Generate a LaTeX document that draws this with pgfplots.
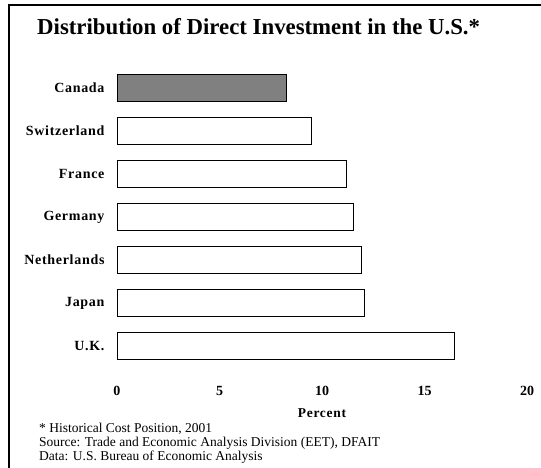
\documentclass[border=0pt]{standalone}
\usepackage{pgfplots}
\pgfplotsset{compat=1.18}
\usepackage{fontspec}
\setmainfont{Liberation Serif}
\newfontfamily\spaced[LetterSpace=5]{Liberation Serif}

\begin{document}
\begin{tikzpicture}[x=1pt,y=1pt]
\useasboundingbox (0,0) rectangle (541,468);
% frame
\draw[line width=1.6pt] (9,0) -- (9,463) -- (541,463);

\node[anchor=base west,inner sep=0pt,font=\fontsize{22.8}{26}\selectfont\bfseries] at (37,433)
  {Distribution of Direct Investment in the U.S.*};

\begin{axis}[
    at={(117pt,100.5pt)}, anchor=south west,
    scale only axis,
    width=410pt, height=301pt,
    xbar,
    bar width=27pt,
    xmin=0, xmax=20,
    ymin=-0.5, ymax=6.5,
    y dir=reverse,
    axis line style={draw=none},
    xtick={0,5,10,15,20},
    ytick={0,...,6},
    yticklabels={Canada,Switzerland,France,Germany,Netherlands,Japan,U.K.},
    major tick length=0pt,
    xticklabel style={font=\fontsize{14}{16}\selectfont\bfseries, anchor=base, yshift=-28pt},
    yticklabel style={font=\fontsize{14}{16}\spaced\selectfont\bfseries, anchor=east, xshift=-9pt},
    /pgf/number format/assume math mode=true,
    xlabel={Percent},
    xlabel style={font=\fontsize{13.5}{15}\spaced\selectfont\bfseries, at={(axis description cs:0.5,0)}, anchor=base, yshift=-50pt},
]
\addplot[draw=black, line width=0.9pt, fill=white, bar shift=0pt] coordinates {
  (9.5,1) (11.2,2) (11.55,3) (11.9,4) (12.05,5) (16.45,6)};
\addplot[draw=black, line width=0.9pt, fill=black!50, bar shift=0pt] coordinates {(8.25,0)};
\end{axis}

\begin{scope}[every node/.style={anchor=base west,inner sep=0pt,font=\fontsize{13.5}{15}\selectfont}]
\node at (39,35) {* Historical Cost Position, 2001};
\node at (39,21) {Source: Trade and Economic Analysis Division (EET), DFAIT};
\node at (39,7) {Data: U.S. Bureau of Economic Analysis};
\end{scope}
\end{tikzpicture}
\end{document}
